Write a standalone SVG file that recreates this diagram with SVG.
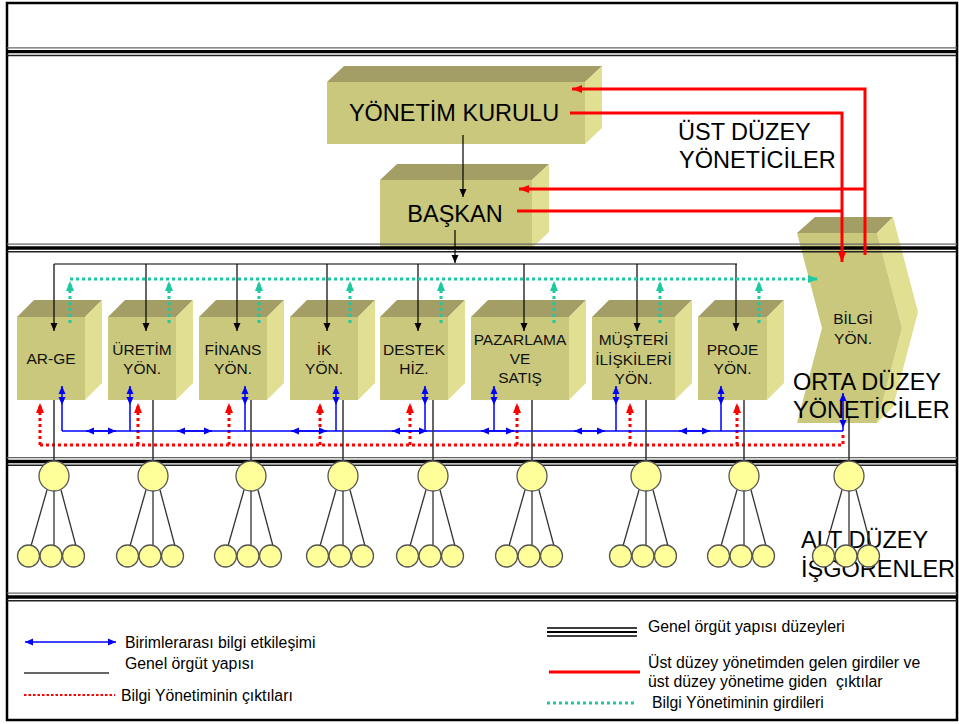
<svg xmlns="http://www.w3.org/2000/svg" width="959" height="724" viewBox="0 0 959 724">
  <style>
    .front{fill:#C9C87C}
    .top{fill:#A29E66}
    .side{fill:#E0DF92}
    .big{font-family:"Liberation Sans",Arial,sans-serif;font-size:23.5px;fill:#000}
    .title{font-family:"Liberation Sans",Arial,sans-serif;font-size:23.5px;fill:#000;text-anchor:middle}
    .dept{font-family:"Liberation Sans",Arial,sans-serif;font-size:15.5px;fill:#111;text-anchor:middle}
    .leg{font-family:"Liberation Sans",Arial,sans-serif;font-size:15.8px;fill:#000}
    .org{stroke:#000;stroke-width:1.2;fill:none}
    .drop{stroke:#333;stroke-width:1.5;fill:none}
    .red{stroke:#FF0000;stroke-width:3;fill:none}
    .redDot{stroke:#FF0000;stroke-width:3;stroke-dasharray:3 3;fill:none}
    .teal{stroke:#1CC9A0;stroke-width:3;stroke-dasharray:3 3;fill:none}
    .blue{stroke:#0000FF;stroke-width:1.5;fill:none}
    .circ{fill:#FFFF99;stroke:#555;stroke-width:1.3}
    .tie{stroke:#333;stroke-width:1.3}
    .thin1{stroke:#666;stroke-width:1.3}
    .thick{stroke:#000;stroke-width:3.3}
    .thin2{stroke:#222;stroke-width:1.5}
  </style>
  <defs>
    <marker id="ahBlack" viewBox="0 0 8 8" markerUnits="userSpaceOnUse" markerWidth="8" markerHeight="8" refX="8" refY="4" orient="auto">
      <path d="M0,0.5 L8,4 L0,7.5 z" fill="#000"/>
    </marker>
    <marker id="ahBlue" viewBox="0 0 8 8" markerUnits="userSpaceOnUse" markerWidth="8" markerHeight="8" refX="8" refY="4" orient="auto-start-reverse">
      <path d="M0,0.5 L8,4 L0,7.5 z" fill="#0000FF"/>
    </marker>
    <marker id="ahRed" viewBox="0 0 10 10" markerUnits="userSpaceOnUse" markerWidth="10" markerHeight="10" refX="10" refY="5" orient="auto">
      <path d="M0,1 L10,5 L0,9 z" fill="#FF0000"/>
    </marker>
    <marker id="ahTeal" viewBox="0 0 10 10" markerUnits="userSpaceOnUse" markerWidth="10" markerHeight="10" refX="10" refY="5" orient="auto">
      <path d="M0,1 L10,5 L0,9 z" fill="#1CC9A0"/>
    </marker>
    <g id="band">
      <line class="thin1" x1="7" y1="-3.8" x2="957" y2="-3.8"/>
      <line class="thick" x1="7" y1="0" x2="957" y2="0"/>
      <line class="thin2" x1="7" y1="3.8" x2="957" y2="3.8"/>
    </g>
  </defs>

  <rect x="0" y="0" width="959" height="724" fill="#FFFFFF"/>

  <!-- top management -->
  <g id="yonetim-kurulu">
    <polygon class="top" points="327,82 344,66 602,66 585,82"/>
    <polygon class="side" points="585,82 602,66 602,128 585,144"/>
    <rect class="front" x="327" y="82" width="258" height="62"/>
    <text class="title" x="454" y="121">YÖNETİM KURULU</text>
  </g>
  <g id="baskan">
    <polygon class="top" points="380,180 397,164 549,164 532,180"/>
    <polygon class="side" points="532,180 549,164 549,232 532,248"/>
    <rect class="front" x="380" y="180" width="152" height="68"/>
    <text class="title" x="455" y="222">BAŞKAN</text>
  </g>

  <!-- departments -->
  <g id="arge">
    <polygon class="top" points="17,317 34,300 102,300 85,317"/>
    <polygon class="side" points="85,317 102,300 102,383 85,400"/>
    <rect class="front" x="17" y="317" width="68" height="83"/>
    <text class="dept" x="51" y="364">AR-GE</text>
  </g>
  <g id="uretim">
    <polygon class="top" points="108,317 125,300 193,300 176,317"/>
    <polygon class="side" points="176,317 193,300 193,383 176,400"/>
    <rect class="front" x="108" y="317" width="68" height="83"/>
    <text class="dept" x="142" y="355">ÜRETİM</text>
    <text class="dept" x="142" y="374">YÖN.</text>
  </g>
  <g id="finans">
    <polygon class="top" points="199,317 216,300 284,300 267,317"/>
    <polygon class="side" points="267,317 284,300 284,383 267,400"/>
    <rect class="front" x="199" y="317" width="68" height="83"/>
    <text class="dept" x="233" y="355">FİNANS</text>
    <text class="dept" x="233" y="374">YÖN.</text>
  </g>
  <g id="ik">
    <polygon class="top" points="290,317 307,300 375,300 358,317"/>
    <polygon class="side" points="358,317 375,300 375,383 358,400"/>
    <rect class="front" x="290" y="317" width="68" height="83"/>
    <text class="dept" x="324" y="355">İK</text>
    <text class="dept" x="324" y="374">YÖN.</text>
  </g>
  <g id="destek">
    <polygon class="top" points="380,317 397,300 465,300 448,317"/>
    <polygon class="side" points="448,317 465,300 465,383 448,400"/>
    <rect class="front" x="380" y="317" width="68" height="83"/>
    <text class="dept" x="414" y="355">DESTEK</text>
    <text class="dept" x="414" y="374">HİZ.</text>
  </g>
  <g id="pazarlama">
    <polygon class="top" points="471,317 488,300 586,300 569,317"/>
    <polygon class="side" points="569,317 586,300 586,383 569,400"/>
    <rect class="front" x="471" y="317" width="98" height="83"/>
    <text class="dept" x="520" y="345">PAZARLAMA</text>
    <text class="dept" x="520" y="364">VE</text>
    <text class="dept" x="520" y="383">SATIŞ</text>
  </g>
  <g id="musteri">
    <polygon class="top" points="592,317 609,300 692,300 675,317"/>
    <polygon class="side" points="675,317 692,300 692,383 675,400"/>
    <rect class="front" x="592" y="317" width="83" height="83"/>
    <text class="dept" x="633.5" y="345">MÜŞTERİ</text>
    <text class="dept" x="633.5" y="365">İLİŞKİLERİ</text>
    <text class="dept" x="633.5" y="384">YÖN.</text>
  </g>
  <g id="proje">
    <polygon class="top" points="698,317 715,300 784,300 767,317"/>
    <polygon class="side" points="767,317 784,300 784,383 767,400"/>
    <rect class="front" x="698" y="317" width="69" height="83"/>
    <text class="dept" x="732.5" y="355">PROJE</text>
    <text class="dept" x="732.5" y="374">YÖN.</text>
  </g>
  <g id="bilgi-yon">
    <polygon class="top" points="797,233 815,217 893,217 877,233"/>
    <polygon class="side" points="877,233 893,217 918,312 893,407 877,423 902,328"/>
    <polygon class="front" points="797,233 877,233 902,328 877,423 797,423 822,328"/>
    <text class="dept" x="853" y="324">BİLGİ</text>
    <text class="dept" x="853" y="344">YÖN.</text>
  </g>

  <!-- level separators and frame -->
  <g id="levels">
    <rect x="7" y="3" width="950" height="717" fill="none" stroke="#000" stroke-width="2.5"/>
    <use href="#band" y="51.7"/>
    <use href="#band" y="248"/>
    <use href="#band" y="461.5"/>
    <use href="#band" y="597"/>
  </g>

  <!-- connectors -->
  <g id="connectors">
    <!-- general structure -->
    <path class="org" d="M463,135 V197" marker-end="url(#ahBlack)"/>
    <path class="org" d="M455,230 V263" marker-end="url(#ahBlack)"/>
    <path class="org" d="M54,264 H737"/>
    <path class="org" d="M54,264 V331" marker-end="url(#ahBlack)"/>
    <path class="org" d="M146,264 V331" marker-end="url(#ahBlack)"/>
    <path class="org" d="M237,264 V331" marker-end="url(#ahBlack)"/>
    <path class="org" d="M327,264 V331" marker-end="url(#ahBlack)"/>
    <path class="org" d="M418,264 V331" marker-end="url(#ahBlack)"/>
    <path class="org" d="M524,264 V331" marker-end="url(#ahBlack)"/>
    <path class="org" d="M637,264 V331" marker-end="url(#ahBlack)"/>
    <path class="org" d="M736,264 V331" marker-end="url(#ahBlack)"/>

    <!-- top management inputs / outputs -->
    <path class="red" d="M865,255 V89 H572" marker-end="url(#ahRed)"/>
    <path class="red" d="M865,189 H519" marker-end="url(#ahRed)"/>
    <path class="red" d="M570,113 H842 V262" marker-end="url(#ahRed)"/>
    <path class="red" d="M517,211 H842"/>

    <!-- knowledge management inputs -->
    <path class="teal" d="M70,279 H818" marker-end="url(#ahTeal)"/>
    <path class="teal" d="M70,323 V281" marker-end="url(#ahTeal)"/>
    <path class="teal" d="M169,323 V281" marker-end="url(#ahTeal)"/>
    <path class="teal" d="M259,323 V281" marker-end="url(#ahTeal)"/>
    <path class="teal" d="M350,323 V281" marker-end="url(#ahTeal)"/>
    <path class="teal" d="M441,323 V281" marker-end="url(#ahTeal)"/>
    <path class="teal" d="M554,323 V281" marker-end="url(#ahTeal)"/>
    <path class="teal" d="M660,323 V281" marker-end="url(#ahTeal)"/>
    <path class="teal" d="M759,323 V281" marker-end="url(#ahTeal)"/>

    <!-- knowledge management outputs -->
    <path class="redDot" d="M40,445 H843 V432"/>
    <path class="redDot" d="M40,445 V403" marker-end="url(#ahRed)"/>
    <path class="redDot" d="M138,445 V403" marker-end="url(#ahRed)"/>
    <path class="redDot" d="M229,445 V403" marker-end="url(#ahRed)"/>
    <path class="redDot" d="M320,445 V403" marker-end="url(#ahRed)"/>
    <path class="redDot" d="M410,445 V403" marker-end="url(#ahRed)"/>
    <path class="redDot" d="M517,445 V403" marker-end="url(#ahRed)"/>
    <path class="redDot" d="M630,445 V403" marker-end="url(#ahRed)"/>
    <path class="redDot" d="M737,445 V403" marker-end="url(#ahRed)"/>

    <!-- inter-unit information exchange -->
    <path class="blue" d="M62,431 H843"/>
    <path class="blue" d="M62,405 V431 M130,405 V431 M245,405 V431 M336,405 V431 M425,405 V431 M494,405 V431 M616,405 V431 M721,405 V431 M843,428 V431"/>
    <path class="blue" d="M62,386 V405" marker-start="url(#ahBlue)" marker-end="url(#ahBlue)"/>
    <path class="blue" d="M130,386 V405" marker-start="url(#ahBlue)" marker-end="url(#ahBlue)"/>
    <path class="blue" d="M245,386 V405" marker-start="url(#ahBlue)" marker-end="url(#ahBlue)"/>
    <path class="blue" d="M336,386 V405" marker-start="url(#ahBlue)" marker-end="url(#ahBlue)"/>
    <path class="blue" d="M425,386 V405" marker-start="url(#ahBlue)" marker-end="url(#ahBlue)"/>
    <path class="blue" d="M494,386 V405" marker-start="url(#ahBlue)" marker-end="url(#ahBlue)"/>
    <path class="blue" d="M616,386 V405" marker-start="url(#ahBlue)" marker-end="url(#ahBlue)"/>
    <path class="blue" d="M721,386 V405" marker-start="url(#ahBlue)" marker-end="url(#ahBlue)"/>
    <path class="blue" d="M843,393 V428" marker-start="url(#ahBlue)" marker-end="url(#ahBlue)"/>
    <path class="blue" d="M86,431 H116" marker-start="url(#ahBlue)" marker-end="url(#ahBlue)"/>
    <path class="blue" d="M177,431 H212" marker-start="url(#ahBlue)" marker-end="url(#ahBlue)"/>
    <path class="blue" d="M291,431 H327" marker-start="url(#ahBlue)" marker-end="url(#ahBlue)"/>
    <path class="blue" d="M392,431 H427" marker-start="url(#ahBlue)" marker-end="url(#ahBlue)"/>
    <path class="blue" d="M481,431 H514" marker-start="url(#ahBlue)" marker-end="url(#ahBlue)"/>
    <path class="blue" d="M574,431 H605" marker-start="url(#ahBlue)" marker-end="url(#ahBlue)"/>
    <path class="blue" d="M679,431 H710" marker-start="url(#ahBlue)" marker-end="url(#ahBlue)"/>

    <!-- units down to staff -->
    <path class="drop" d="M54,400 V461 M153,400 V461 M251,400 V461 M343,400 V461 M433,400 V461 M532,400 V461 M646,400 V461 M744,400 V461 M849,417 V461"/>
  </g>

  <!-- level titles -->
  <g id="level-labels">
    <text class="big" x="678" y="140">ÜST DÜZEY</text>
    <text class="big" x="679" y="168">YÖNETİCİLER</text>
    <text class="big" x="793" y="390">ORTA DÜZEY</text>
    <text class="big" x="793" y="418">YÖNETİCİLER</text>
    <text class="big" x="801" y="548">ALT DÜZEY</text>
    <text class="big" x="801" y="577">İŞGÖRENLER</text>
  </g>

  <!-- staff groups -->
  <g id="staff-arge" transform="translate(54,0)">
    <line class="tie" x1="-7" y1="490" x2="-23" y2="546"/><line class="tie" x1="0" y1="491" x2="0" y2="545"/><line class="tie" x1="7" y1="490" x2="22" y2="546"/>
    <circle class="circ" cx="0" cy="476" r="15"/>
    <circle class="circ" cx="-25.5" cy="556" r="11"/><circle class="circ" cx="-3" cy="556" r="11"/><circle class="circ" cx="19.5" cy="556" r="11"/>
  </g>
  <g id="staff-uretim" transform="translate(153,0)">
    <line class="tie" x1="-7" y1="490" x2="-23" y2="546"/><line class="tie" x1="0" y1="491" x2="0" y2="545"/><line class="tie" x1="7" y1="490" x2="22" y2="546"/>
    <circle class="circ" cx="0" cy="476" r="15"/>
    <circle class="circ" cx="-25.5" cy="556" r="11"/><circle class="circ" cx="-3" cy="556" r="11"/><circle class="circ" cx="19.5" cy="556" r="11"/>
  </g>
  <g id="staff-finans" transform="translate(251,0)">
    <line class="tie" x1="-7" y1="490" x2="-23" y2="546"/><line class="tie" x1="0" y1="491" x2="0" y2="545"/><line class="tie" x1="7" y1="490" x2="22" y2="546"/>
    <circle class="circ" cx="0" cy="476" r="15"/>
    <circle class="circ" cx="-25.5" cy="556" r="11"/><circle class="circ" cx="-3" cy="556" r="11"/><circle class="circ" cx="19.5" cy="556" r="11"/>
  </g>
  <g id="staff-ik" transform="translate(343,0)">
    <line class="tie" x1="-7" y1="490" x2="-23" y2="546"/><line class="tie" x1="0" y1="491" x2="0" y2="545"/><line class="tie" x1="7" y1="490" x2="22" y2="546"/>
    <circle class="circ" cx="0" cy="476" r="15"/>
    <circle class="circ" cx="-25.5" cy="556" r="11"/><circle class="circ" cx="-3" cy="556" r="11"/><circle class="circ" cx="19.5" cy="556" r="11"/>
  </g>
  <g id="staff-destek" transform="translate(433,0)">
    <line class="tie" x1="-7" y1="490" x2="-23" y2="546"/><line class="tie" x1="0" y1="491" x2="0" y2="545"/><line class="tie" x1="7" y1="490" x2="22" y2="546"/>
    <circle class="circ" cx="0" cy="476" r="15"/>
    <circle class="circ" cx="-25.5" cy="556" r="11"/><circle class="circ" cx="-3" cy="556" r="11"/><circle class="circ" cx="19.5" cy="556" r="11"/>
  </g>
  <g id="staff-pazarlama" transform="translate(532,0)">
    <line class="tie" x1="-7" y1="490" x2="-23" y2="546"/><line class="tie" x1="0" y1="491" x2="0" y2="545"/><line class="tie" x1="7" y1="490" x2="22" y2="546"/>
    <circle class="circ" cx="0" cy="476" r="15"/>
    <circle class="circ" cx="-25.5" cy="556" r="11"/><circle class="circ" cx="-3" cy="556" r="11"/><circle class="circ" cx="19.5" cy="556" r="11"/>
  </g>
  <g id="staff-musteri" transform="translate(646,0)">
    <line class="tie" x1="-7" y1="490" x2="-23" y2="546"/><line class="tie" x1="0" y1="491" x2="0" y2="545"/><line class="tie" x1="7" y1="490" x2="22" y2="546"/>
    <circle class="circ" cx="0" cy="476" r="15"/>
    <circle class="circ" cx="-25.5" cy="556" r="11"/><circle class="circ" cx="-3" cy="556" r="11"/><circle class="circ" cx="19.5" cy="556" r="11"/>
  </g>
  <g id="staff-proje" transform="translate(744,0)">
    <line class="tie" x1="-7" y1="490" x2="-23" y2="546"/><line class="tie" x1="0" y1="491" x2="0" y2="545"/><line class="tie" x1="7" y1="490" x2="22" y2="546"/>
    <circle class="circ" cx="0" cy="476" r="15"/>
    <circle class="circ" cx="-25.5" cy="556" r="11"/><circle class="circ" cx="-3" cy="556" r="11"/><circle class="circ" cx="19.5" cy="556" r="11"/>
  </g>
  <g id="staff-bilgi" transform="translate(849,0)">
    <line class="tie" x1="-7" y1="490" x2="-23" y2="546"/><line class="tie" x1="0" y1="491" x2="0" y2="545"/><line class="tie" x1="7" y1="490" x2="22" y2="546"/>
    <circle class="circ" cx="0" cy="476" r="15"/>
    <circle class="circ" cx="-25.5" cy="556" r="11"/><circle class="circ" cx="-3" cy="556" r="11"/><circle class="circ" cx="19.5" cy="556" r="11"/>
  </g>

  <!-- legend -->
  <g id="legend">
    <path class="blue" d="M25,642 H116" marker-start="url(#ahBlue)" marker-end="url(#ahBlue)"/>
    <text class="leg" x="125" y="648">Birimlerarası bilgi etkileşimi</text>
    <line x1="24" y1="673" x2="109" y2="673" stroke="#333" stroke-width="1.5"/>
    <text class="leg" x="125" y="669">Genel örgüt yapısı</text>
    <line x1="24" y1="695" x2="115" y2="695" stroke="#FF0000" stroke-width="2.2" stroke-dasharray="2.5 2"/>
    <text class="leg" x="121" y="701">Bilgi Yönetiminin çıktıları</text>

    <line x1="547" y1="628" x2="637" y2="628" stroke="#000" stroke-width="1.3"/>
    <line x1="547" y1="632" x2="637" y2="632" stroke="#000" stroke-width="2.2"/>
    <line x1="547" y1="636" x2="637" y2="636" stroke="#000" stroke-width="1.3"/>
    <text class="leg" x="648" y="632">Genel örgüt yapısı düzeyleri</text>
    <line x1="549" y1="672" x2="640" y2="672" stroke="#FF0000" stroke-width="3"/>
    <text class="leg" x="648" y="668">Üst düzey yönetimden gelen girdiler ve</text>
    <text class="leg" x="648" y="687" xml:space="preserve">üst düzey yönetime giden  çıktılar</text>
    <line x1="547" y1="703" x2="637" y2="703" stroke="#1CC9A0" stroke-width="3" stroke-dasharray="3 3"/>
    <text class="leg" x="652" y="708">Bilgi Yönetiminin girdileri</text>
  </g>
</svg>
